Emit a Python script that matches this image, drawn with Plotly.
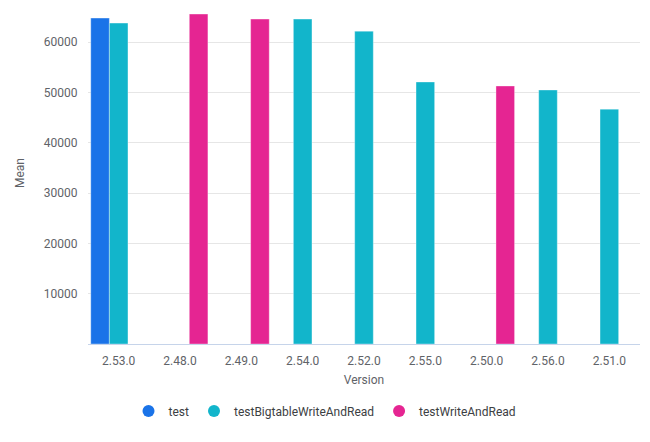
import plotly.graph_objects as go

versions = ["2.53.0", "2.48.0", "2.49.0", "2.54.0", "2.52.0", "2.55.0", "2.50.0", "2.56.0", "2.51.0"]
test_vals = [64800, None, None, None, None, None, None, None, None]
bigtable_vals = [63800, None, None, 64600, 62200, 52100, None, 50500, 46700]
write_read_vals = [None, 65600, 64600, None, None, None, 51300, None, None]
y_ticks = [10000, 20000, 30000, 40000, 50000, 60000]

series = [
    ("test", test_vals, "#1a73e8"),
    ("testBigtableWriteAndRead", bigtable_vals, "#12b5cb"),
    ("testWriteAndRead", write_read_vals, "#e52592"),
]

fig = go.Figure()
for name, vals, color in series:
    fig.add_trace(go.Bar(
        x=versions, y=vals, name=name, showlegend=False,
        marker=dict(color=color, line=dict(color="rgba(255,255,255,0.35)", width=1)),
    ))
for name, vals, color in series:
    fig.add_trace(go.Scatter(
        x=[versions[0]], y=[None], name=name, mode="markers",
        marker=dict(color=color, size=13, symbol="circle"),
    ))

fig.update_layout(
    width=650, height=442,
    margin=dict(l=88, r=10, t=2, b=98, autoexpand=False),
    paper_bgcolor="white", plot_bgcolor="white",
    barmode="group", bargap=0.09, bargroupgap=0,
    font=dict(family="Roboto", size=12, color="#5f6368"),
    xaxis=dict(
        type="category", automargin=False,
        range=[-0.5, len(versions) - 0.5],
        title=dict(text="Version", standoff=8, font=dict(size=12, color="#5f6368")),
        showline=True, linecolor="#c6d4ea", linewidth=1,
        showgrid=False, ticks="outside", ticklen=6, tickcolor="rgba(0,0,0,0)",
        tickfont=dict(size=12, color="#5f6368"),
    ),
    yaxis=dict(
        range=[0, 68000], automargin=False,
        tickvals=y_ticks, tickformat="d",
        title=dict(text="Mean", standoff=16, font=dict(size=12, color="#5f6368")),
        showgrid=True, gridcolor="#e6e6e6", gridwidth=1,
        zeroline=False, showline=False,
        ticks="outside", ticklen=7, tickcolor="rgba(0,0,0,0)",
        tickfont=dict(size=12, color="#5f6368"),
    ),
    legend=dict(
        orientation="h", xref="container", yref="container",
        x=0.5, xanchor="center", y=0.07, yanchor="middle",
        font=dict(size=12, color="#3c4043"),
        itemsizing="constant", itemwidth=30,
    ),
)

fig.write_html(
    "out.html",
    config={"displayModeBar": False},
    post_script="document.body.style.margin='0';document.body.style.overflow='hidden';",
)
